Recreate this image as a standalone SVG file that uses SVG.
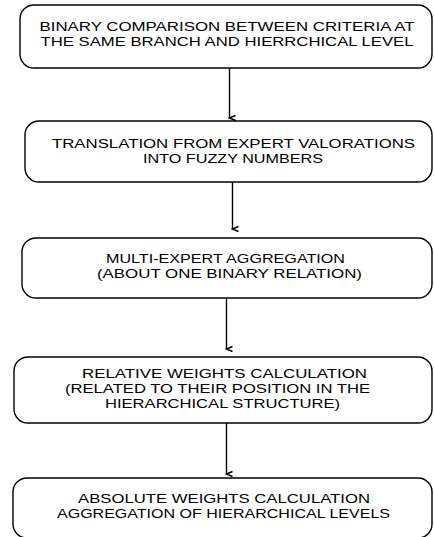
<svg xmlns="http://www.w3.org/2000/svg" width="434" height="537" viewBox="0 0 434 537">
<style>
.box{fill:#fff;stroke:#000;stroke-width:1.4}
.t{font-family:"Liberation Sans",Arial,sans-serif;font-size:13px;fill:#000;text-anchor:middle}
.c{stroke:#000;stroke-width:1.4;fill:none}
</style>
<defs>
<marker id="ah" markerWidth="10" markerHeight="10" refX="5" refY="8" orient="auto" markerUnits="userSpaceOnUse" viewBox="0 0 10 10">
<path d="M2.5,2 L5,8 L7.5,2" fill="none" stroke="#000" stroke-width="1.4"/>
</marker>
</defs>
<rect width="434" height="537" fill="#fff"/>
<g id="connectors">
<line class="c" x1="229.5" y1="68" x2="229.5" y2="118" marker-end="url(#ah)"/>
<line class="c" x1="232.5" y1="182" x2="232.5" y2="229" marker-end="url(#ah)"/>
<line class="c" x1="226.5" y1="298" x2="226.5" y2="349" marker-end="url(#ah)"/>
<line class="c" x1="226.5" y1="423" x2="226.5" y2="474" marker-end="url(#ah)"/>
</g>
<g id="n1">
<rect class="box" x="20" y="5" width="412" height="63" rx="14"/>
<text class="t" x="227" y="31" textLength="375" lengthAdjust="spacingAndGlyphs">BINARY COMPARISON BETWEEN CRITERIA AT</text>
<text class="t" x="227" y="45.5" textLength="373" lengthAdjust="spacingAndGlyphs">THE SAME BRANCH AND HIERRCHICAL LEVEL</text>
</g>
<g id="n2">
<rect class="box" x="25" y="121" width="407" height="61" rx="14"/>
<text class="t" x="233.5" y="148" textLength="363" lengthAdjust="spacingAndGlyphs">TRANSLATION FROM EXPERT VALORATIONS</text>
<text class="t" x="233" y="163" textLength="180" lengthAdjust="spacingAndGlyphs">INTO FUZZY NUMBERS</text>
</g>
<g id="n3">
<rect class="box" x="22" y="238" width="410" height="60" rx="14"/>
<text class="t" x="225.5" y="263" textLength="239" lengthAdjust="spacingAndGlyphs">MULTI-EXPERT AGGREGATION</text>
<text class="t" x="229.5" y="278" textLength="265" lengthAdjust="spacingAndGlyphs">(ABOUT ONE BINARY RELATION)</text>
</g>
<g id="n4">
<rect class="box" x="14" y="357" width="418" height="66" rx="14"/>
<text class="t" x="224.5" y="378" textLength="285" lengthAdjust="spacingAndGlyphs">RELATIVE WEIGHTS CALCULATION</text>
<text class="t" x="217.5" y="393" textLength="305" lengthAdjust="spacingAndGlyphs">(RELATED TO THEIR POSITION IN THE</text>
<text class="t" x="222.5" y="408" textLength="235" lengthAdjust="spacingAndGlyphs">HIERARCHICAL STRUCTURE)</text>
</g>
<g id="n5">
<rect class="box" x="13" y="478" width="419" height="60" rx="14"/>
<text class="t" x="224" y="503" textLength="292" lengthAdjust="spacingAndGlyphs">ABSOLUTE WEIGHTS CALCULATION</text>
<text class="t" x="223.5" y="518" textLength="333" lengthAdjust="spacingAndGlyphs">AGGREGATION OF HIERARCHICAL LEVELS</text>
</g>
</svg>
